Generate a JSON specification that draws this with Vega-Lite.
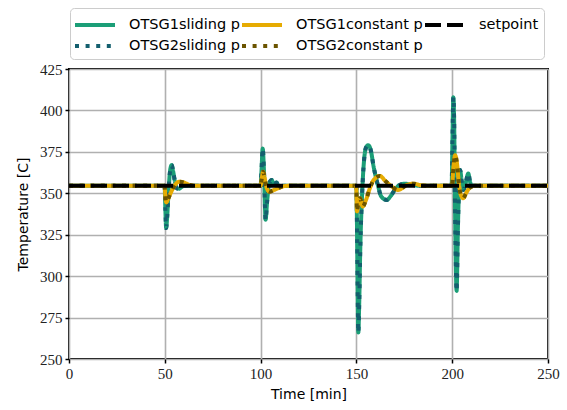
{
  "$schema": "https://vega.github.io/schema/vega-lite/v6.json",
  "width": 479,
  "height": 290,
  "autosize": "none",
  "padding": {"left": 69, "top": 69, "right": 19, "bottom": 51},
  "background": "white",
  "config": {
    "view": {"stroke": "black", "strokeWidth": 2},
    "axis": {
      "domain": false,
      "grid": true,
      "gridColor": "#b0b0b0",
      "gridWidth": 1.6,
      "tickColor": "black",
      "tickWidth": 1.5,
      "tickSize": 4,
      "labelFlush": false,
      "labelFont": "Liberation Serif",
      "labelFontSize": 15,
      "labelColor": "#222222",
      "labelPadding": 3,
      "titleFont": "DejaVu Sans",
      "titleFontSize": 14,
      "titleFontWeight": "normal",
      "titleColor": "black"
    },
    "legend": {
      "orient": "none",
      "legendX": 1,
      "legendY": -61,
      "columns": 3,
      "direction": "horizontal",
      "title": null,
      "symbolType": "M-2,0H2",
      "symbolStrokeWidth": 4,
      "symbolSize": 400,
      "symbolOffset": 8,
      "labelFont": "DejaVu Sans",
      "labelFontSize": 14.5,
      "labelColor": "black",
      "labelOffset": 22,
      "columnPadding": -6,
      "rowPadding": 1,
      "padding": 5,
      "strokeColor": "#cccccc",
      "fillColor": "white",
      "cornerRadius": 4
    }
  },
  "datasets": {
    "sliding": [
      {"t": 0, "OTSG1sliding p": 354.5, "OTSG2sliding p": 354.5},
      {"t": 49.9, "OTSG1sliding p": 354.5, "OTSG2sliding p": 354.5},
      {"t": 50.3, "OTSG1sliding p": 340, "OTSG2sliding p": 340},
      {"t": 50.7, "OTSG1sliding p": 329, "OTSG2sliding p": 329},
      {"t": 51.2, "OTSG1sliding p": 335, "OTSG2sliding p": 335},
      {"t": 52.0, "OTSG1sliding p": 352, "OTSG2sliding p": 352},
      {"t": 52.8, "OTSG1sliding p": 364, "OTSG2sliding p": 364},
      {"t": 53.6, "OTSG1sliding p": 367, "OTSG2sliding p": 367},
      {"t": 54.4, "OTSG1sliding p": 363, "OTSG2sliding p": 363},
      {"t": 55.3, "OTSG1sliding p": 357, "OTSG2sliding p": 357},
      {"t": 56.3, "OTSG1sliding p": 353, "OTSG2sliding p": 353},
      {"t": 57.5, "OTSG1sliding p": 352.8, "OTSG2sliding p": 352.8},
      {"t": 59, "OTSG1sliding p": 354, "OTSG2sliding p": 354},
      {"t": 61, "OTSG1sliding p": 354.7, "OTSG2sliding p": 354.7},
      {"t": 64, "OTSG1sliding p": 354.5, "OTSG2sliding p": 354.5},
      {"t": 100.0, "OTSG1sliding p": 354.5, "OTSG2sliding p": 354.5},
      {"t": 100.4, "OTSG1sliding p": 362, "OTSG2sliding p": 362},
      {"t": 101.1, "OTSG1sliding p": 377, "OTSG2sliding p": 377},
      {"t": 101.8, "OTSG1sliding p": 362, "OTSG2sliding p": 362},
      {"t": 102.6, "OTSG1sliding p": 334, "OTSG2sliding p": 334},
      {"t": 103.4, "OTSG1sliding p": 345, "OTSG2sliding p": 345},
      {"t": 104.5, "OTSG1sliding p": 356, "OTSG2sliding p": 356},
      {"t": 105.8, "OTSG1sliding p": 358, "OTSG2sliding p": 358},
      {"t": 107, "OTSG1sliding p": 355, "OTSG2sliding p": 355},
      {"t": 108.3, "OTSG1sliding p": 356.5, "OTSG2sliding p": 356.5},
      {"t": 109.5, "OTSG1sliding p": 354, "OTSG2sliding p": 354},
      {"t": 112, "OTSG1sliding p": 354.5, "OTSG2sliding p": 354.5},
      {"t": 150.0, "OTSG1sliding p": 354.5, "OTSG2sliding p": 354.5},
      {"t": 150.4, "OTSG1sliding p": 320, "OTSG2sliding p": 320},
      {"t": 151.0, "OTSG1sliding p": 266, "OTSG2sliding p": 266},
      {"t": 151.5, "OTSG1sliding p": 285, "OTSG2sliding p": 285},
      {"t": 152.0, "OTSG1sliding p": 315, "OTSG2sliding p": 315},
      {"t": 153.0, "OTSG1sliding p": 350, "OTSG2sliding p": 350},
      {"t": 154.0, "OTSG1sliding p": 370, "OTSG2sliding p": 370},
      {"t": 155.0, "OTSG1sliding p": 377.5, "OTSG2sliding p": 377.5},
      {"t": 156.2, "OTSG1sliding p": 379, "OTSG2sliding p": 379},
      {"t": 157.5, "OTSG1sliding p": 376, "OTSG2sliding p": 376},
      {"t": 159.0, "OTSG1sliding p": 366, "OTSG2sliding p": 366},
      {"t": 161.3, "OTSG1sliding p": 354.5, "OTSG2sliding p": 354.5},
      {"t": 163.0, "OTSG1sliding p": 348, "OTSG2sliding p": 348},
      {"t": 165.8, "OTSG1sliding p": 346, "OTSG2sliding p": 346},
      {"t": 168.0, "OTSG1sliding p": 348.5, "OTSG2sliding p": 348.5},
      {"t": 170.0, "OTSG1sliding p": 352, "OTSG2sliding p": 352},
      {"t": 172.5, "OTSG1sliding p": 355, "OTSG2sliding p": 355},
      {"t": 175.4, "OTSG1sliding p": 355.8, "OTSG2sliding p": 355.8},
      {"t": 178, "OTSG1sliding p": 355.3, "OTSG2sliding p": 355.3},
      {"t": 182, "OTSG1sliding p": 354.6, "OTSG2sliding p": 354.6},
      {"t": 185, "OTSG1sliding p": 354.5, "OTSG2sliding p": 354.5},
      {"t": 199.7, "OTSG1sliding p": 354.5, "OTSG2sliding p": 354.5},
      {"t": 200.1, "OTSG1sliding p": 380, "OTSG2sliding p": 380},
      {"t": 200.6, "OTSG1sliding p": 408, "OTSG2sliding p": 408},
      {"t": 201.0, "OTSG1sliding p": 395, "OTSG2sliding p": 395},
      {"t": 201.5, "OTSG1sliding p": 340, "OTSG2sliding p": 340},
      {"t": 202.3, "OTSG1sliding p": 291, "OTSG2sliding p": 291},
      {"t": 203.0, "OTSG1sliding p": 330, "OTSG2sliding p": 330},
      {"t": 204.1, "OTSG1sliding p": 364, "OTSG2sliding p": 364},
      {"t": 205.0, "OTSG1sliding p": 357, "OTSG2sliding p": 357},
      {"t": 205.8, "OTSG1sliding p": 352, "OTSG2sliding p": 352},
      {"t": 207, "OTSG1sliding p": 356, "OTSG2sliding p": 356},
      {"t": 208.4, "OTSG1sliding p": 362, "OTSG2sliding p": 362},
      {"t": 209.3, "OTSG1sliding p": 357, "OTSG2sliding p": 357},
      {"t": 210.2, "OTSG1sliding p": 354.5, "OTSG2sliding p": 354.5},
      {"t": 213, "OTSG1sliding p": 354.5, "OTSG2sliding p": 354.5},
      {"t": 250, "OTSG1sliding p": 354.5, "OTSG2sliding p": 354.5}
    ],
    "constant": [
      {"t": 0, "OTSG1constant p": 354.5, "OTSG2constant p": 354.5},
      {"t": 49.9, "OTSG1constant p": 354.5, "OTSG2constant p": 354.5},
      {"t": 50.3, "OTSG1constant p": 348, "OTSG2constant p": 348},
      {"t": 50.8, "OTSG1constant p": 344.5, "OTSG2constant p": 344.5},
      {"t": 51.5, "OTSG1constant p": 346, "OTSG2constant p": 346},
      {"t": 53, "OTSG1constant p": 350, "OTSG2constant p": 350},
      {"t": 55, "OTSG1constant p": 354.5, "OTSG2constant p": 354.5},
      {"t": 57.5, "OTSG1constant p": 357, "OTSG2constant p": 357},
      {"t": 60, "OTSG1constant p": 356.5, "OTSG2constant p": 356.5},
      {"t": 63, "OTSG1constant p": 355, "OTSG2constant p": 355},
      {"t": 66, "OTSG1constant p": 354.5, "OTSG2constant p": 354.5},
      {"t": 100, "OTSG1constant p": 354.5, "OTSG2constant p": 354.5},
      {"t": 100.5, "OTSG1constant p": 358, "OTSG2constant p": 358},
      {"t": 101.3, "OTSG1constant p": 363, "OTSG2constant p": 363},
      {"t": 102, "OTSG1constant p": 360, "OTSG2constant p": 360},
      {"t": 103, "OTSG1constant p": 354, "OTSG2constant p": 354},
      {"t": 104.5, "OTSG1constant p": 351, "OTSG2constant p": 351},
      {"t": 107, "OTSG1constant p": 352, "OTSG2constant p": 352},
      {"t": 110, "OTSG1constant p": 353.5, "OTSG2constant p": 353.5},
      {"t": 114, "OTSG1constant p": 354.5, "OTSG2constant p": 354.5},
      {"t": 149.9, "OTSG1constant p": 354.5, "OTSG2constant p": 354.5},
      {"t": 150.3, "OTSG1constant p": 339, "OTSG2constant p": 339},
      {"t": 151.0, "OTSG1constant p": 344, "OTSG2constant p": 344},
      {"t": 151.9, "OTSG1constant p": 347, "OTSG2constant p": 347},
      {"t": 153.3, "OTSG1constant p": 342, "OTSG2constant p": 342},
      {"t": 155, "OTSG1constant p": 346, "OTSG2constant p": 346},
      {"t": 157, "OTSG1constant p": 353, "OTSG2constant p": 353},
      {"t": 159, "OTSG1constant p": 358, "OTSG2constant p": 358},
      {"t": 162.3, "OTSG1constant p": 360.5, "OTSG2constant p": 360.5},
      {"t": 165, "OTSG1constant p": 357.5, "OTSG2constant p": 357.5},
      {"t": 167.5, "OTSG1constant p": 355, "OTSG2constant p": 355},
      {"t": 171.9, "OTSG1constant p": 352, "OTSG2constant p": 352},
      {"t": 176.2, "OTSG1constant p": 355, "OTSG2constant p": 355},
      {"t": 179.6, "OTSG1constant p": 355.8, "OTSG2constant p": 355.8},
      {"t": 184, "OTSG1constant p": 354.8, "OTSG2constant p": 354.8},
      {"t": 190, "OTSG1constant p": 354.5, "OTSG2constant p": 354.5},
      {"t": 199.9, "OTSG1constant p": 354.5, "OTSG2constant p": 354.5},
      {"t": 200.6, "OTSG1constant p": 365, "OTSG2constant p": 365},
      {"t": 201.5, "OTSG1constant p": 373, "OTSG2constant p": 373},
      {"t": 202.5, "OTSG1constant p": 368, "OTSG2constant p": 368},
      {"t": 203.5, "OTSG1constant p": 356, "OTSG2constant p": 356},
      {"t": 204.5, "OTSG1constant p": 349, "OTSG2constant p": 349},
      {"t": 205.8, "OTSG1constant p": 347, "OTSG2constant p": 347},
      {"t": 207, "OTSG1constant p": 349.5, "OTSG2constant p": 349.5},
      {"t": 208.5, "OTSG1constant p": 352.5, "OTSG2constant p": 352.5},
      {"t": 210, "OTSG1constant p": 354, "OTSG2constant p": 354},
      {"t": 212, "OTSG1constant p": 354.5, "OTSG2constant p": 354.5},
      {"t": 250, "OTSG1constant p": 354.5, "OTSG2constant p": 354.5}
    ],
    "setpoint": [
      {"t": 0, "setpoint": 354.5},
      {"t": 250, "setpoint": 354.5}
    ]
  },
  "encoding": {
    "x": {
      "field": "t",
      "type": "quantitative",
      "scale": {"domain": [0, 250], "nice": false},
      "axis": {"values": [0, 50, 100, 150, 200, 250], "title": "Time [min]", "titlePadding": 6}
    },
    "y": {
      "field": "T",
      "type": "quantitative",
      "scale": {"domain": [250, 425], "nice": false, "zero": false},
      "axis": {"values": [250, 275, 300, 325, 350, 375, 400, 425], "title": "Temperature [C]", "titlePadding": 9}
    },
    "color": {
      "field": "series",
      "type": "nominal",
      "scale": {
        "domain": ["OTSG1sliding p", "OTSG1constant p", "setpoint", "OTSG2sliding p", "OTSG2constant p"],
        "range": ["#1b9e77", "#e6ab02", "#000000", "#145f6e", "#6b5400"]
      }
    },
    "strokeDash": {
      "field": "series",
      "type": "nominal",
      "scale": {
        "domain": ["OTSG1sliding p", "OTSG1constant p", "setpoint", "OTSG2sliding p", "OTSG2constant p"],
        "range": [[1, 0], [1, 0], [16, 6], [4, 6.6], [4, 6.6]]
      }
    }
  },
  "layer": [
    {
      "data": {"name": "sliding"},
      "transform": [{"fold": ["OTSG1sliding p", "OTSG2sliding p"], "as": ["series", "T"]}],
      "mark": {"type": "line", "strokeWidth": 4, "interpolate": "monotone", "strokeJoin": "round", "strokeCap": "butt"}
    },
    {
      "data": {"name": "constant"},
      "transform": [{"fold": ["OTSG1constant p", "OTSG2constant p"], "as": ["series", "T"]}],
      "mark": {"type": "line", "strokeWidth": 4, "interpolate": "monotone", "strokeJoin": "round", "strokeCap": "butt"}
    },
    {
      "data": {"name": "setpoint"},
      "transform": [{"fold": ["setpoint"], "as": ["series", "T"]}],
      "mark": {"type": "line", "strokeWidth": 4, "strokeCap": "butt"}
    }
  ]
}
